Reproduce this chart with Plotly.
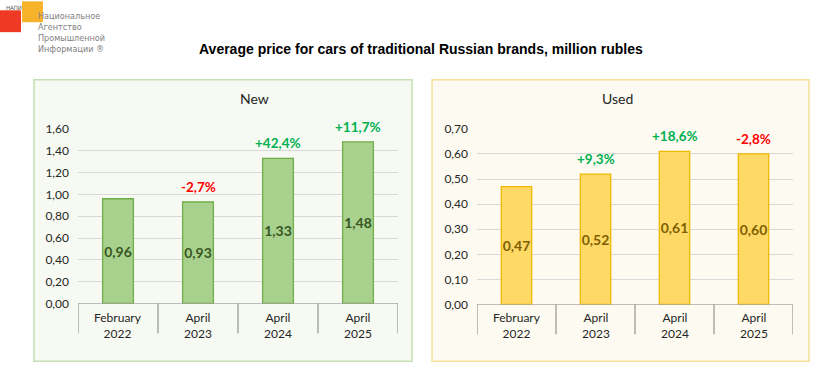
import plotly.graph_objects as go

W, H = 813, 368
# observed screenshot mapping (vertical): shown_y = A + S * page_y
A, S = 6.7, 0.965

categories = ["February<br>2022", "April<br>2023", "April<br>2024", "April<br>2025"]
new_values = [0.96, 0.93, 1.33, 1.48]
used_values = [0.47, 0.52, 0.61, 0.60]
new_changes = ["", "-2,7%", "+42,4%", "+11,7%"]
used_changes = ["", "+9,3%", "+18,6%", "-2,8%"]
new_ticks = [0, 0.2, 0.4, 0.6, 0.8, 1.0, 1.2, 1.4, 1.6]
used_ticks = [0, 0.1, 0.2, 0.3, 0.4, 0.5, 0.6, 0.7]


def fmt(v):
    return f"{v:.2f}".replace(".", ",")


def px(x):
    return x / W


def py(y):
    return 1 - ((y - A) / S) / H


FONT = "Lato"
fig = go.Figure()

panels = [
    dict(vals=new_values, chg=new_changes, ticks=new_ticks, rng=[0, 1.6], xa="x", ya="y",
         fill="#a9d18e", line="#70ad47", txt="#375623", title="New",
         box=(34, 79, 412, 362), bcol="#c5e0b4", bg="#f7faf3",
         dom_x=(78, 398), dom_y=(304, 128.3)),
    dict(vals=used_values, chg=used_changes, ticks=used_ticks, rng=[0, 0.7], xa="x2", ya="y2",
         fill="#ffd966", line="#f2b800", txt="#7f6000", title="Used",
         box=(432, 79, 809, 362), bcol="#f5df9a", bg="#fdfbf1",
         dom_x=(477, 793), dom_y=(305, 128.3)),
]

shapes = []
annotations = []
for p in panels:
    x0, y0, x1, y1 = p["box"]
    shapes.append(dict(type="rect", xref="paper", yref="paper",
                       x0=px(x0), x1=px(x1), y0=py(y1), y1=py(y0),
                       line=dict(color=p["bcol"], width=1.5), fillcolor=p["bg"], layer="below"))
    fig.add_trace(go.Bar(
        x=list(range(len(categories))), y=p["vals"], xaxis=p["xa"], yaxis=p["ya"],
        marker=dict(color=p["fill"], line=dict(color=p["line"], width=1.3)),
        width=0.385,
        text=[fmt(v) for v in p["vals"]], textposition="inside", insidetextanchor="middle",
        textfont=dict(family=FONT, size=14, color=p["txt"], weight="bold"),
        textangle=0, constraintext="none", showlegend=False, hoverinfo="skip",
    ))
    for i, (v, c) in enumerate(zip(p["vals"], p["chg"])):
        if c:
            col = "#00b050" if c.startswith("+") else "#ff0000"
            annotations.append(dict(x=i, y=v, xref=p["xa"], yref=p["ya"], text=f"<b>{c}</b>",
                                    showarrow=False, yanchor="middle", yshift=15,
                                    font=dict(family=FONT, size=13.5, color=col)))
    for i, c in enumerate(categories):
        annotations.append(dict(x=i, y=py(p["dom_y"][0] + 4), xref=p["xa"], yref="paper",
                                text=c, showarrow=False, yanchor="top",
                                font=dict(family=FONT, size=12, color="#262626")))
    for k in range(len(categories) + 1):
        shapes.append(dict(type="line", xref=p["xa"], yref="paper", x0=k - 0.5, x1=k - 0.5,
                           y0=py(p["dom_y"][0]), y1=py(p["dom_y"][0] + 30),
                           line=dict(color="#808080", width=1)))
    annotations.append(dict(x=(p["dom_x"][0] + p["dom_x"][1]) / 2 / W,
                            y=py(98), xref="paper", yref="paper", text=p["title"],
                            showarrow=False, yanchor="middle",
                            font=dict(family=FONT, size=14, color="#262626")))

annotations.append(dict(x=px(421), y=py(48), xref="paper", yref="paper",
                        text="<b>Average price for cars of traditional Russian brands, million rubles</b>",
                        showarrow=False, yanchor="middle",
                        font=dict(family="Liberation Sans", size=14, color="#000000")))

shapes.append(dict(type="rect", xref="paper", yref="paper", x0=px(0), x1=px(21), y0=py(31), y1=py(9),
                   fillcolor="#ee3a24", line=dict(width=0), layer="above"))
shapes.append(dict(type="rect", xref="paper", yref="paper", x0=px(22), x1=px(43), y0=py(21), y1=py(0),
                   fillcolor="#f6b22a", line=dict(width=0), layer="above"))
annotations.append(dict(x=px(4), y=py(6), xref="paper", yref="paper", text="НАПИ", showarrow=False,
                        xanchor="left", yanchor="middle",
                        font=dict(family="DejaVu Sans Condensed", size=6, color="#555555")))
logo_lines = ["Национальное", "Агентство", "Промышленной", "Информации ®"]
for j, t in enumerate(logo_lines):
    annotations.append(dict(x=px(36), y=py(15 + j * 11), xref="paper", yref="paper", text=t,
                            showarrow=False, xanchor="left", yanchor="middle",
                            font=dict(family="DejaVu Sans Condensed", size=9, color="#7f7f7f")))

layout = dict(
    width=W, height=H, margin=dict(l=0, r=0, t=0, b=0),
    paper_bgcolor="white", plot_bgcolor="rgba(0,0,0,0)",
    shapes=shapes, annotations=annotations,
)
for p in panels:
    xk = "xaxis" if p["xa"] == "x" else "xaxis2"
    yk = "yaxis" if p["ya"] == "y" else "yaxis2"
    layout[xk] = dict(domain=[px(p["dom_x"][0]), px(p["dom_x"][1])], range=[-0.5, 3.5],
                      showticklabels=False, showgrid=False, zeroline=False, showline=False,
                      fixedrange=True, anchor=p["ya"])
    layout[yk] = dict(domain=[py(p["dom_y"][0]), py(p["dom_y"][1])], range=p["rng"],
                      tickvals=p["ticks"], ticktext=[fmt(t) for t in p["ticks"]],
                      tickfont=dict(family=FONT, size=12, color="#262626"),
                      showgrid=True, gridcolor="#d9d9d9", gridwidth=1, zeroline=False,
                      showline=False, ticks="", ticklabelstandoff=8, fixedrange=True,
                      anchor=p["xa"])
    layout["shapes"].append(dict(type="line", xref=p["xa"], yref=p["ya"], x0=-0.5, x1=3.5, y0=0, y1=0,
                                 line=dict(color="#808080", width=1)))
fig.update_layout(**layout)

css_fix = "document.body.style.margin='0';"
fig.write_html("out.html", config={"displayModeBar": False, "staticPlot": True}, post_script=css_fix)
